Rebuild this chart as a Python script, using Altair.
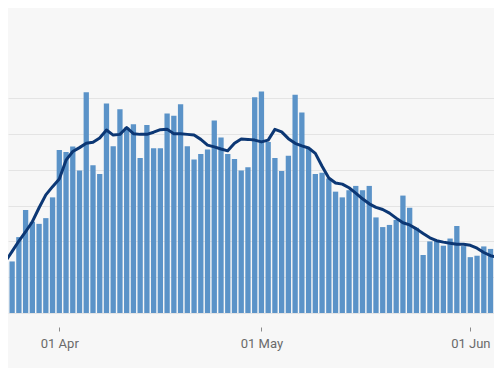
import altair as alt
import pandas as pd

# Daily values (in gridline units x 200), 23 Mar -> 05 Jun
dates = pd.date_range("2020-03-23", "2020-06-05", freq="D")

daily = [
    0.955, 1.41, 1.44, 2.12, 2.88, 2.55, 2.49, 2.65, 3.23,
    4.55, 4.50, 4.65, 3.98, 6.17, 4.13, 3.88, 5.85, 4.66, 5.69, 5.18, 5.27, 4.33, 5.25, 4.60, 4.60,
    5.57, 5.51, 5.83, 4.66, 4.29, 4.44, 4.57, 5.38, 4.90, 4.44, 4.30, 3.98, 4.07, 6.03,
    6.19, 4.78, 4.33, 3.97, 4.39, 6.10, 5.60, 4.60, 3.88, 3.92, 3.76, 3.39, 3.23, 3.43, 3.55, 3.43,
    3.55, 2.67, 2.40, 2.46, 2.60, 3.28, 2.94, 2.38, 1.62, 2.00, 2.04, 1.88, 2.08, 2.43, 1.87,
    1.56, 1.60, 1.86, 1.79, 1.53,
]

average = [
    1.19, 1.44, 1.72, 2.01, 2.27, 2.55, 2.94, 3.30, 3.53,
    3.74, 4.27, 4.51, 4.62, 4.74, 4.77, 4.89, 5.11, 4.97, 4.99, 5.18, 5.01, 4.99, 4.99, 5.05, 5.12,
    5.13, 5.01, 5.01, 4.99, 4.97, 4.85, 4.69, 4.64, 4.58, 4.53, 4.74, 4.86, 4.85, 4.83,
    4.78, 4.83, 5.13, 5.06, 4.87, 4.74, 4.67, 4.61, 4.46, 4.10, 3.77, 3.63, 3.60, 3.50, 3.35, 3.19,
    3.05, 2.95, 2.89, 2.79, 2.65, 2.52, 2.46, 2.35, 2.22, 2.10, 2.02, 1.98, 1.95, 1.92, 1.92,
    1.89, 1.81, 1.69, 1.60, 1.56,
]

grid_values = [0, 200, 400, 600, 800, 1000, 1200]
tick_labels = ["2020-04-01", "2020-05-01", "2020-06-01"]


def ms(s):
    return int(pd.Timestamp(s).value // 10**6)


df = pd.DataFrame({
    "date": [int(d.value // 10**6) for d in dates],
    "daily": [v * 200 for v in daily],
    "average": [v * 200 for v in average],
})

x_scale = alt.Scale(
    type="utc",
    domain=[ms("2020-03-24 09:16"), ms("2020-06-04 12:23")],
    nice=False,
    padding=0,
)
y_scale = alt.Scale(domain=[0, 1704], nice=False, zero=True, padding=0)

x_enc = alt.X(
    "date:T",
    scale=x_scale,
    axis=alt.Axis(
        values=[ms(t) for t in tick_labels],
        labelExpr="utcFormat(datum.value, '%d %b')",
        title=None,
        grid=False,
        domain=False,
        tickSize=4,
        tickColor="#8a8a8a",
        tickWidth=1,
        offset=14,
        labelPadding=6,
        labelFontSize=13,
        labelColor="#6a6a6a",
        labelFont="Roboto",
    ),
)
y_enc = alt.Y(
    "daily:Q",
    scale=y_scale,
    axis=alt.Axis(
        values=grid_values,
        labels=False,
        ticks=False,
        domain=False,
        title=None,
        grid=True,
        gridColor="#e4e4e4",
        gridWidth=1,
    ),
)

base = alt.Chart(df)

bars = base.mark_bar(size=5.3, color="#5b93c8", clip=True).encode(x=x_enc, y=y_enc)

line = base.mark_line(
    color="#0c3774", strokeWidth=3, strokeJoin="round", strokeCap="round", clip=True
).encode(
    x=alt.X("date:T", scale=x_scale),
    y=alt.Y("average:Q", scale=y_scale),
)

chart = (
    alt.layer(bars, line)
    .properties(
        width=486,
        height=305,
        autosize=alt.AutoSizeParams(type="none"),
        padding={"left": 0, "top": 0, "right": 0, "bottom": 55},
        background="#f7f7f7",
    )
    .configure_view(stroke=None)
)

chart.save("out.html", embed_options={"renderer": "svg", "actions": False})
